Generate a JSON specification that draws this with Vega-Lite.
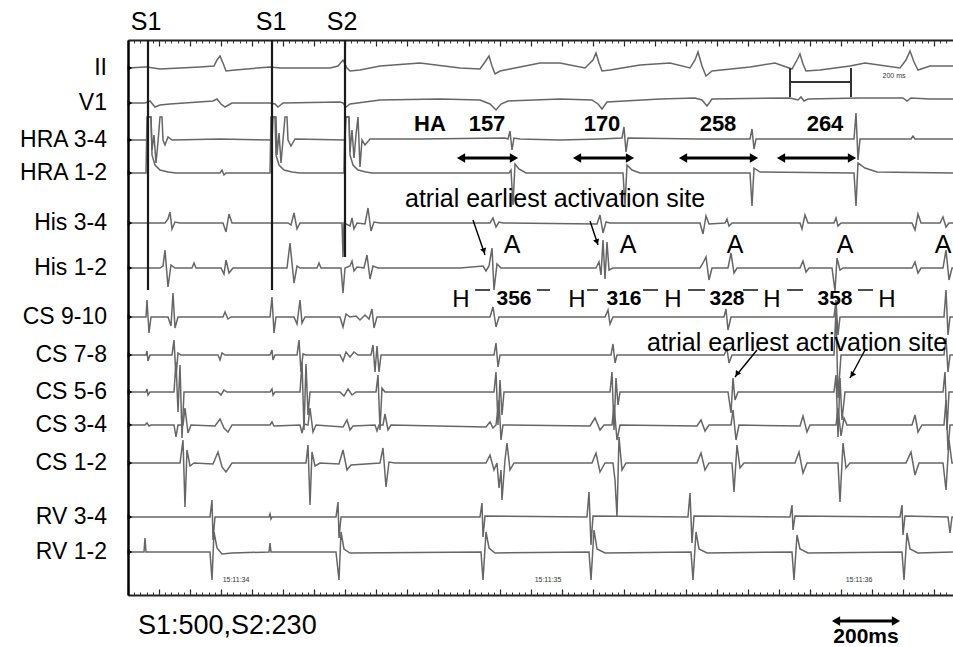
{
"$schema":"https://vega.github.io/schema/vega-lite/v6.json",
"width":825,"height":555,
"autosize":{"type":"none"},
"padding":{"left":128,"top":40,"right":0,"bottom":52},
"background":"white",
"view":{"stroke":null},
"config":{"font":"Liberation Sans","text":{"font":"Liberation Sans","color":"#000"}},
"datasets":{
"traces":[
{"ch":"II","t":0,"v":28},{"ch":"II","t":17,"v":27},{"ch":"II","t":19,"v":27},{"ch":"II","t":32,"v":29},{"ch":"II","t":72,"v":27},{"ch":"II","t":86,"v":26},{"ch":"II","t":89,"v":20},{"ch":"II","t":92,"v":16},{"ch":"II","t":95,"v":23},{"ch":"II","t":98,"v":31},{"ch":"II","t":107,"v":30},{"ch":"II","t":142,"v":27},{"ch":"II","t":152,"v":28},{"ch":"II","t":202,"v":28},{"ch":"II","t":210,"v":26},{"ch":"II","t":215,"v":20},{"ch":"II","t":219,"v":28},{"ch":"II","t":222,"v":31},{"ch":"II","t":232,"v":30},{"ch":"II","t":252,"v":26},{"ch":"II","t":292,"v":23},{"ch":"II","t":332,"v":28},{"ch":"II","t":352,"v":29},{"ch":"II","t":357,"v":22},{"ch":"II","t":361,"v":16},{"ch":"II","t":364,"v":26},{"ch":"II","t":367,"v":34},{"ch":"II","t":372,"v":31},{"ch":"II","t":382,"v":29},{"ch":"II","t":412,"v":23},{"ch":"II","t":432,"v":23},{"ch":"II","t":457,"v":28},{"ch":"II","t":465,"v":20},{"ch":"II","t":468,"v":13},{"ch":"II","t":471,"v":23},{"ch":"II","t":474,"v":31},{"ch":"II","t":482,"v":30},{"ch":"II","t":512,"v":25},{"ch":"II","t":542,"v":23},{"ch":"II","t":562,"v":28},{"ch":"II","t":567,"v":20},{"ch":"II","t":570,"v":12},{"ch":"II","t":574,"v":26},{"ch":"II","t":578,"v":36},{"ch":"II","t":584,"v":31},{"ch":"II","t":622,"v":27},{"ch":"II","t":647,"v":23},{"ch":"II","t":664,"v":29},{"ch":"II","t":669,"v":20},{"ch":"II","t":672,"v":14},{"ch":"II","t":675,"v":24},{"ch":"II","t":678,"v":31},{"ch":"II","t":692,"v":30},{"ch":"II","t":722,"v":26},{"ch":"II","t":737,"v":23},{"ch":"II","t":772,"v":28},{"ch":"II","t":778,"v":20},{"ch":"II","t":782,"v":11},{"ch":"II","t":786,"v":22},{"ch":"II","t":790,"v":30},{"ch":"II","t":802,"v":26},{"ch":"II","t":825,"v":26},
{"ch":"V1","t":0,"v":63},{"ch":"V1","t":17,"v":63},{"ch":"V1","t":22,"v":61},{"ch":"V1","t":27,"v":67},{"ch":"V1","t":32,"v":65},{"ch":"V1","t":42,"v":64},{"ch":"V1","t":85,"v":61},{"ch":"V1","t":89,"v":59},{"ch":"V1","t":93,"v":64},{"ch":"V1","t":97,"v":67},{"ch":"V1","t":104,"v":63},{"ch":"V1","t":142,"v":63},{"ch":"V1","t":147,"v":64},{"ch":"V1","t":150,"v":67},{"ch":"V1","t":155,"v":63},{"ch":"V1","t":212,"v":62},{"ch":"V1","t":215,"v":63},{"ch":"V1","t":218,"v":67},{"ch":"V1","t":222,"v":64},{"ch":"V1","t":252,"v":60},{"ch":"V1","t":312,"v":59},{"ch":"V1","t":352,"v":60},{"ch":"V1","t":362,"v":64},{"ch":"V1","t":368,"v":70},{"ch":"V1","t":373,"v":64},{"ch":"V1","t":380,"v":61},{"ch":"V1","t":432,"v":59},{"ch":"V1","t":464,"v":60},{"ch":"V1","t":470,"v":64},{"ch":"V1","t":474,"v":69},{"ch":"V1","t":479,"v":62},{"ch":"V1","t":532,"v":59},{"ch":"V1","t":567,"v":58},{"ch":"V1","t":574,"v":60},{"ch":"V1","t":579,"v":66},{"ch":"V1","t":584,"v":59},{"ch":"V1","t":662,"v":58},{"ch":"V1","t":670,"v":60},{"ch":"V1","t":673,"v":57},{"ch":"V1","t":676,"v":61},{"ch":"V1","t":680,"v":59},{"ch":"V1","t":732,"v":58},{"ch":"V1","t":775,"v":58},{"ch":"V1","t":779,"v":61},{"ch":"V1","t":783,"v":58},{"ch":"V1","t":802,"v":59},{"ch":"V1","t":825,"v":59},
{"ch":"HRA 3-4","t":0,"v":100},{"ch":"HRA 3-4","t":19,"v":100},{"ch":"HRA 3-4","t":20,"v":77},{"ch":"HRA 3-4","t":23,"v":77},{"ch":"HRA 3-4","t":24,"v":110},{"ch":"HRA 3-4","t":26,"v":95},{"ch":"HRA 3-4","t":28,"v":123},{"ch":"HRA 3-4","t":30,"v":102},{"ch":"HRA 3-4","t":32,"v":77},{"ch":"HRA 3-4","t":34,"v":77},{"ch":"HRA 3-4","t":35,"v":100},{"ch":"HRA 3-4","t":37,"v":105},{"ch":"HRA 3-4","t":40,"v":97},{"ch":"HRA 3-4","t":44,"v":100},{"ch":"HRA 3-4","t":92,"v":99},{"ch":"HRA 3-4","t":144,"v":100},{"ch":"HRA 3-4","t":145,"v":77},{"ch":"HRA 3-4","t":148,"v":77},{"ch":"HRA 3-4","t":149,"v":115},{"ch":"HRA 3-4","t":151,"v":93},{"ch":"HRA 3-4","t":153,"v":123},{"ch":"HRA 3-4","t":155,"v":100},{"ch":"HRA 3-4","t":157,"v":77},{"ch":"HRA 3-4","t":159,"v":77},{"ch":"HRA 3-4","t":160,"v":100},{"ch":"HRA 3-4","t":163,"v":106},{"ch":"HRA 3-4","t":167,"v":99},{"ch":"HRA 3-4","t":217,"v":100},{"ch":"HRA 3-4","t":218,"v":77},{"ch":"HRA 3-4","t":221,"v":77},{"ch":"HRA 3-4","t":222,"v":112},{"ch":"HRA 3-4","t":224,"v":90},{"ch":"HRA 3-4","t":226,"v":118},{"ch":"HRA 3-4","t":228,"v":95},{"ch":"HRA 3-4","t":230,"v":77},{"ch":"HRA 3-4","t":232,"v":127},{"ch":"HRA 3-4","t":234,"v":100},{"ch":"HRA 3-4","t":237,"v":105},{"ch":"HRA 3-4","t":242,"v":99},{"ch":"HRA 3-4","t":292,"v":99},{"ch":"HRA 3-4","t":377,"v":98},{"ch":"HRA 3-4","t":380,"v":99},{"ch":"HRA 3-4","t":382,"v":91},{"ch":"HRA 3-4","t":384,"v":110},{"ch":"HRA 3-4","t":386,"v":98},{"ch":"HRA 3-4","t":392,"v":99},{"ch":"HRA 3-4","t":432,"v":100},{"ch":"HRA 3-4","t":472,"v":99},{"ch":"HRA 3-4","t":494,"v":98},{"ch":"HRA 3-4","t":496,"v":87},{"ch":"HRA 3-4","t":498,"v":112},{"ch":"HRA 3-4","t":500,"v":98},{"ch":"HRA 3-4","t":572,"v":99},{"ch":"HRA 3-4","t":622,"v":99},{"ch":"HRA 3-4","t":624,"v":89},{"ch":"HRA 3-4","t":626,"v":109},{"ch":"HRA 3-4","t":628,"v":99},{"ch":"HRA 3-4","t":672,"v":99},{"ch":"HRA 3-4","t":726,"v":99},{"ch":"HRA 3-4","t":728,"v":73},{"ch":"HRA 3-4","t":730,"v":120},{"ch":"HRA 3-4","t":732,"v":99},{"ch":"HRA 3-4","t":783,"v":99},{"ch":"HRA 3-4","t":785,"v":96},{"ch":"HRA 3-4","t":787,"v":99},{"ch":"HRA 3-4","t":825,"v":99},
{"ch":"HRA 1-2","t":0,"v":133},{"ch":"HRA 1-2","t":18,"v":133},{"ch":"HRA 1-2","t":19,"v":77},{"ch":"HRA 1-2","t":23,"v":77},{"ch":"HRA 1-2","t":24,"v":115},{"ch":"HRA 1-2","t":27,"v":125},{"ch":"HRA 1-2","t":32,"v":130},{"ch":"HRA 1-2","t":40,"v":132},{"ch":"HRA 1-2","t":48,"v":133},{"ch":"HRA 1-2","t":92,"v":133},{"ch":"HRA 1-2","t":94,"v":130},{"ch":"HRA 1-2","t":96,"v":135},{"ch":"HRA 1-2","t":98,"v":133},{"ch":"HRA 1-2","t":142,"v":133},{"ch":"HRA 1-2","t":143,"v":77},{"ch":"HRA 1-2","t":147,"v":77},{"ch":"HRA 1-2","t":148,"v":115},{"ch":"HRA 1-2","t":151,"v":125},{"ch":"HRA 1-2","t":156,"v":130},{"ch":"HRA 1-2","t":164,"v":132},{"ch":"HRA 1-2","t":172,"v":133},{"ch":"HRA 1-2","t":216,"v":133},{"ch":"HRA 1-2","t":217,"v":77},{"ch":"HRA 1-2","t":221,"v":77},{"ch":"HRA 1-2","t":222,"v":115},{"ch":"HRA 1-2","t":225,"v":125},{"ch":"HRA 1-2","t":230,"v":130},{"ch":"HRA 1-2","t":238,"v":132},{"ch":"HRA 1-2","t":244,"v":133},{"ch":"HRA 1-2","t":381,"v":133},{"ch":"HRA 1-2","t":383,"v":130},{"ch":"HRA 1-2","t":385,"v":165},{"ch":"HRA 1-2","t":387,"v":124},{"ch":"HRA 1-2","t":391,"v":129},{"ch":"HRA 1-2","t":398,"v":133},{"ch":"HRA 1-2","t":495,"v":133},{"ch":"HRA 1-2","t":497,"v":165},{"ch":"HRA 1-2","t":499,"v":125},{"ch":"HRA 1-2","t":504,"v":130},{"ch":"HRA 1-2","t":512,"v":133},{"ch":"HRA 1-2","t":622,"v":133},{"ch":"HRA 1-2","t":624,"v":166},{"ch":"HRA 1-2","t":626,"v":128},{"ch":"HRA 1-2","t":632,"v":132},{"ch":"HRA 1-2","t":726,"v":133},{"ch":"HRA 1-2","t":728,"v":166},{"ch":"HRA 1-2","t":730,"v":123},{"ch":"HRA 1-2","t":737,"v":128},{"ch":"HRA 1-2","t":749,"v":132},{"ch":"HRA 1-2","t":825,"v":133},
{"ch":"His 3-4","t":0,"v":183},{"ch":"His 3-4","t":37,"v":183},{"ch":"His 3-4","t":40,"v":179},{"ch":"His 3-4","t":42,"v":172},{"ch":"His 3-4","t":44,"v":189},{"ch":"His 3-4","t":47,"v":182},{"ch":"His 3-4","t":52,"v":183},{"ch":"His 3-4","t":95,"v":183},{"ch":"His 3-4","t":98,"v":192},{"ch":"His 3-4","t":101,"v":174},{"ch":"His 3-4","t":104,"v":183},{"ch":"His 3-4","t":160,"v":183},{"ch":"His 3-4","t":163,"v":185},{"ch":"His 3-4","t":166,"v":173},{"ch":"His 3-4","t":169,"v":189},{"ch":"His 3-4","t":172,"v":183},{"ch":"His 3-4","t":214,"v":183},{"ch":"His 3-4","t":215,"v":217},{"ch":"His 3-4","t":216,"v":183},{"ch":"His 3-4","t":222,"v":186},{"ch":"His 3-4","t":224,"v":178},{"ch":"His 3-4","t":226,"v":189},{"ch":"His 3-4","t":229,"v":183},{"ch":"His 3-4","t":237,"v":184},{"ch":"His 3-4","t":240,"v":168},{"ch":"His 3-4","t":243,"v":191},{"ch":"His 3-4","t":246,"v":182},{"ch":"His 3-4","t":252,"v":183},{"ch":"His 3-4","t":362,"v":183},{"ch":"His 3-4","t":365,"v":178},{"ch":"His 3-4","t":368,"v":187},{"ch":"His 3-4","t":371,"v":182},{"ch":"His 3-4","t":375,"v":183},{"ch":"His 3-4","t":469,"v":184},{"ch":"His 3-4","t":472,"v":175},{"ch":"His 3-4","t":475,"v":193},{"ch":"His 3-4","t":478,"v":182},{"ch":"His 3-4","t":482,"v":183},{"ch":"His 3-4","t":572,"v":183},{"ch":"His 3-4","t":575,"v":194},{"ch":"His 3-4","t":578,"v":176},{"ch":"His 3-4","t":581,"v":184},{"ch":"His 3-4","t":597,"v":183},{"ch":"His 3-4","t":599,"v":179},{"ch":"His 3-4","t":601,"v":186},{"ch":"His 3-4","t":604,"v":183},{"ch":"His 3-4","t":672,"v":183},{"ch":"His 3-4","t":674,"v":189},{"ch":"His 3-4","t":677,"v":175},{"ch":"His 3-4","t":680,"v":183},{"ch":"His 3-4","t":706,"v":183},{"ch":"His 3-4","t":708,"v":178},{"ch":"His 3-4","t":710,"v":186},{"ch":"His 3-4","t":713,"v":183},{"ch":"His 3-4","t":784,"v":183},{"ch":"His 3-4","t":787,"v":190},{"ch":"His 3-4","t":790,"v":174},{"ch":"His 3-4","t":793,"v":183},{"ch":"His 3-4","t":812,"v":183},{"ch":"His 3-4","t":815,"v":177},{"ch":"His 3-4","t":818,"v":187},{"ch":"His 3-4","t":821,"v":183},{"ch":"His 3-4","t":825,"v":183},
{"ch":"His 1-2","t":0,"v":228},{"ch":"His 1-2","t":32,"v":228},{"ch":"His 1-2","t":35,"v":226},{"ch":"His 1-2","t":37,"v":210},{"ch":"His 1-2","t":40,"v":247},{"ch":"His 1-2","t":43,"v":225},{"ch":"His 1-2","t":47,"v":228},{"ch":"His 1-2","t":64,"v":228},{"ch":"His 1-2","t":66,"v":223},{"ch":"His 1-2","t":68,"v":228},{"ch":"His 1-2","t":93,"v":228},{"ch":"His 1-2","t":96,"v":234},{"ch":"His 1-2","t":98,"v":220},{"ch":"His 1-2","t":101,"v":233},{"ch":"His 1-2","t":105,"v":228},{"ch":"His 1-2","t":159,"v":228},{"ch":"His 1-2","t":162,"v":203},{"ch":"His 1-2","t":166,"v":243},{"ch":"His 1-2","t":169,"v":226},{"ch":"His 1-2","t":172,"v":228},{"ch":"His 1-2","t":189,"v":228},{"ch":"His 1-2","t":191,"v":223},{"ch":"His 1-2","t":193,"v":228},{"ch":"His 1-2","t":213,"v":228},{"ch":"His 1-2","t":215,"v":253},{"ch":"His 1-2","t":217,"v":228},{"ch":"His 1-2","t":222,"v":226},{"ch":"His 1-2","t":224,"v":221},{"ch":"His 1-2","t":226,"v":231},{"ch":"His 1-2","t":229,"v":227},{"ch":"His 1-2","t":236,"v":228},{"ch":"His 1-2","t":239,"v":215},{"ch":"His 1-2","t":242,"v":239},{"ch":"His 1-2","t":245,"v":226},{"ch":"His 1-2","t":250,"v":228},{"ch":"His 1-2","t":332,"v":228},{"ch":"His 1-2","t":355,"v":226},{"ch":"His 1-2","t":358,"v":231},{"ch":"His 1-2","t":361,"v":226},{"ch":"His 1-2","t":364,"v":208},{"ch":"His 1-2","t":366,"v":250},{"ch":"His 1-2","t":369,"v":224},{"ch":"His 1-2","t":373,"v":228},{"ch":"His 1-2","t":468,"v":228},{"ch":"His 1-2","t":471,"v":222},{"ch":"His 1-2","t":473,"v":235},{"ch":"His 1-2","t":475,"v":200},{"ch":"His 1-2","t":477,"v":239},{"ch":"His 1-2","t":479,"v":202},{"ch":"His 1-2","t":481,"v":230},{"ch":"His 1-2","t":485,"v":228},{"ch":"His 1-2","t":572,"v":228},{"ch":"His 1-2","t":575,"v":223},{"ch":"His 1-2","t":578,"v":217},{"ch":"His 1-2","t":581,"v":240},{"ch":"His 1-2","t":584,"v":228},{"ch":"His 1-2","t":600,"v":228},{"ch":"His 1-2","t":603,"v":213},{"ch":"His 1-2","t":606,"v":233},{"ch":"His 1-2","t":609,"v":228},{"ch":"His 1-2","t":672,"v":228},{"ch":"His 1-2","t":675,"v":221},{"ch":"His 1-2","t":678,"v":232},{"ch":"His 1-2","t":681,"v":228},{"ch":"His 1-2","t":704,"v":228},{"ch":"His 1-2","t":707,"v":251},{"ch":"His 1-2","t":709,"v":218},{"ch":"His 1-2","t":712,"v":230},{"ch":"His 1-2","t":715,"v":228},{"ch":"His 1-2","t":784,"v":228},{"ch":"His 1-2","t":787,"v":222},{"ch":"His 1-2","t":790,"v":233},{"ch":"His 1-2","t":793,"v":228},{"ch":"His 1-2","t":815,"v":228},{"ch":"His 1-2","t":818,"v":210},{"ch":"His 1-2","t":821,"v":240},{"ch":"His 1-2","t":824,"v":228},{"ch":"His 1-2","t":825,"v":228},
{"ch":"CS 9-10","t":0,"v":277},{"ch":"CS 9-10","t":18,"v":277},{"ch":"CS 9-10","t":19,"v":260},{"ch":"CS 9-10","t":21,"v":293},{"ch":"CS 9-10","t":23,"v":277},{"ch":"CS 9-10","t":40,"v":277},{"ch":"CS 9-10","t":43,"v":286},{"ch":"CS 9-10","t":45,"v":253},{"ch":"CS 9-10","t":47,"v":288},{"ch":"CS 9-10","t":50,"v":277},{"ch":"CS 9-10","t":95,"v":277},{"ch":"CS 9-10","t":97,"v":272},{"ch":"CS 9-10","t":100,"v":279},{"ch":"CS 9-10","t":103,"v":277},{"ch":"CS 9-10","t":142,"v":277},{"ch":"CS 9-10","t":144,"v":257},{"ch":"CS 9-10","t":146,"v":293},{"ch":"CS 9-10","t":148,"v":277},{"ch":"CS 9-10","t":166,"v":277},{"ch":"CS 9-10","t":169,"v":284},{"ch":"CS 9-10","t":172,"v":260},{"ch":"CS 9-10","t":174,"v":283},{"ch":"CS 9-10","t":177,"v":277},{"ch":"CS 9-10","t":212,"v":277},{"ch":"CS 9-10","t":215,"v":287},{"ch":"CS 9-10","t":218,"v":274},{"ch":"CS 9-10","t":222,"v":277},{"ch":"CS 9-10","t":228,"v":276},{"ch":"CS 9-10","t":232,"v":280},{"ch":"CS 9-10","t":237,"v":275},{"ch":"CS 9-10","t":241,"v":279},{"ch":"CS 9-10","t":244,"v":269},{"ch":"CS 9-10","t":246,"v":288},{"ch":"CS 9-10","t":249,"v":277},{"ch":"CS 9-10","t":362,"v":277},{"ch":"CS 9-10","t":365,"v":267},{"ch":"CS 9-10","t":368,"v":287},{"ch":"CS 9-10","t":371,"v":277},{"ch":"CS 9-10","t":477,"v":277},{"ch":"CS 9-10","t":480,"v":270},{"ch":"CS 9-10","t":482,"v":284},{"ch":"CS 9-10","t":485,"v":277},{"ch":"CS 9-10","t":596,"v":277},{"ch":"CS 9-10","t":598,"v":269},{"ch":"CS 9-10","t":600,"v":290},{"ch":"CS 9-10","t":603,"v":277},{"ch":"CS 9-10","t":706,"v":277},{"ch":"CS 9-10","t":708,"v":260},{"ch":"CS 9-10","t":710,"v":295},{"ch":"CS 9-10","t":712,"v":277},{"ch":"CS 9-10","t":816,"v":277},{"ch":"CS 9-10","t":818,"v":250},{"ch":"CS 9-10","t":820,"v":295},{"ch":"CS 9-10","t":822,"v":277},{"ch":"CS 9-10","t":825,"v":277},
{"ch":"CS 7-8","t":0,"v":315},{"ch":"CS 7-8","t":18,"v":315},{"ch":"CS 7-8","t":19,"v":311},{"ch":"CS 7-8","t":20,"v":321},{"ch":"CS 7-8","t":22,"v":315},{"ch":"CS 7-8","t":44,"v":315},{"ch":"CS 7-8","t":46,"v":300},{"ch":"CS 7-8","t":48,"v":337},{"ch":"CS 7-8","t":50,"v":313},{"ch":"CS 7-8","t":53,"v":315},{"ch":"CS 7-8","t":90,"v":315},{"ch":"CS 7-8","t":92,"v":320},{"ch":"CS 7-8","t":94,"v":313},{"ch":"CS 7-8","t":97,"v":315},{"ch":"CS 7-8","t":142,"v":315},{"ch":"CS 7-8","t":144,"v":310},{"ch":"CS 7-8","t":145,"v":320},{"ch":"CS 7-8","t":147,"v":315},{"ch":"CS 7-8","t":169,"v":315},{"ch":"CS 7-8","t":171,"v":300},{"ch":"CS 7-8","t":173,"v":332},{"ch":"CS 7-8","t":175,"v":314},{"ch":"CS 7-8","t":178,"v":315},{"ch":"CS 7-8","t":212,"v":315},{"ch":"CS 7-8","t":215,"v":321},{"ch":"CS 7-8","t":218,"v":312},{"ch":"CS 7-8","t":222,"v":317},{"ch":"CS 7-8","t":226,"v":312},{"ch":"CS 7-8","t":230,"v":315},{"ch":"CS 7-8","t":243,"v":315},{"ch":"CS 7-8","t":245,"v":305},{"ch":"CS 7-8","t":247,"v":332},{"ch":"CS 7-8","t":249,"v":306},{"ch":"CS 7-8","t":251,"v":332},{"ch":"CS 7-8","t":253,"v":315},{"ch":"CS 7-8","t":366,"v":315},{"ch":"CS 7-8","t":368,"v":303},{"ch":"CS 7-8","t":370,"v":327},{"ch":"CS 7-8","t":372,"v":315},{"ch":"CS 7-8","t":483,"v":315},{"ch":"CS 7-8","t":485,"v":304},{"ch":"CS 7-8","t":487,"v":323},{"ch":"CS 7-8","t":489,"v":315},{"ch":"CS 7-8","t":596,"v":315},{"ch":"CS 7-8","t":599,"v":309},{"ch":"CS 7-8","t":601,"v":323},{"ch":"CS 7-8","t":604,"v":315},{"ch":"CS 7-8","t":706,"v":315},{"ch":"CS 7-8","t":708,"v":270},{"ch":"CS 7-8","t":710,"v":358},{"ch":"CS 7-8","t":713,"v":315},{"ch":"CS 7-8","t":816,"v":315},{"ch":"CS 7-8","t":818,"v":298},{"ch":"CS 7-8","t":820,"v":332},{"ch":"CS 7-8","t":822,"v":315},{"ch":"CS 7-8","t":825,"v":315},
{"ch":"CS 5-6","t":0,"v":352},{"ch":"CS 5-6","t":18,"v":352},{"ch":"CS 5-6","t":19,"v":349},{"ch":"CS 5-6","t":20,"v":355},{"ch":"CS 5-6","t":22,"v":352},{"ch":"CS 5-6","t":46,"v":352},{"ch":"CS 5-6","t":48,"v":322},{"ch":"CS 5-6","t":50,"v":372},{"ch":"CS 5-6","t":52,"v":325},{"ch":"CS 5-6","t":54,"v":398},{"ch":"CS 5-6","t":56,"v":352},{"ch":"CS 5-6","t":58,"v":352},{"ch":"CS 5-6","t":90,"v":352},{"ch":"CS 5-6","t":93,"v":355},{"ch":"CS 5-6","t":96,"v":350},{"ch":"CS 5-6","t":99,"v":352},{"ch":"CS 5-6","t":142,"v":352},{"ch":"CS 5-6","t":144,"v":349},{"ch":"CS 5-6","t":145,"v":355},{"ch":"CS 5-6","t":147,"v":352},{"ch":"CS 5-6","t":172,"v":352},{"ch":"CS 5-6","t":174,"v":322},{"ch":"CS 5-6","t":176,"v":390},{"ch":"CS 5-6","t":178,"v":324},{"ch":"CS 5-6","t":180,"v":375},{"ch":"CS 5-6","t":182,"v":352},{"ch":"CS 5-6","t":212,"v":352},{"ch":"CS 5-6","t":216,"v":356},{"ch":"CS 5-6","t":220,"v":349},{"ch":"CS 5-6","t":224,"v":355},{"ch":"CS 5-6","t":228,"v":352},{"ch":"CS 5-6","t":248,"v":352},{"ch":"CS 5-6","t":250,"v":335},{"ch":"CS 5-6","t":252,"v":390},{"ch":"CS 5-6","t":254,"v":348},{"ch":"CS 5-6","t":257,"v":352},{"ch":"CS 5-6","t":366,"v":352},{"ch":"CS 5-6","t":368,"v":332},{"ch":"CS 5-6","t":370,"v":385},{"ch":"CS 5-6","t":372,"v":340},{"ch":"CS 5-6","t":374,"v":375},{"ch":"CS 5-6","t":376,"v":352},{"ch":"CS 5-6","t":482,"v":352},{"ch":"CS 5-6","t":484,"v":332},{"ch":"CS 5-6","t":486,"v":390},{"ch":"CS 5-6","t":488,"v":338},{"ch":"CS 5-6","t":490,"v":365},{"ch":"CS 5-6","t":492,"v":352},{"ch":"CS 5-6","t":600,"v":352},{"ch":"CS 5-6","t":603,"v":373},{"ch":"CS 5-6","t":605,"v":338},{"ch":"CS 5-6","t":607,"v":360},{"ch":"CS 5-6","t":610,"v":352},{"ch":"CS 5-6","t":706,"v":352},{"ch":"CS 5-6","t":708,"v":335},{"ch":"CS 5-6","t":710,"v":397},{"ch":"CS 5-6","t":712,"v":338},{"ch":"CS 5-6","t":714,"v":380},{"ch":"CS 5-6","t":717,"v":352},{"ch":"CS 5-6","t":815,"v":352},{"ch":"CS 5-6","t":817,"v":332},{"ch":"CS 5-6","t":819,"v":390},{"ch":"CS 5-6","t":821,"v":352},{"ch":"CS 5-6","t":825,"v":352},
{"ch":"CS 3-4","t":0,"v":385},{"ch":"CS 3-4","t":17,"v":385},{"ch":"CS 3-4","t":19,"v":383},{"ch":"CS 3-4","t":21,"v":386},{"ch":"CS 3-4","t":23,"v":385},{"ch":"CS 3-4","t":46,"v":385},{"ch":"CS 3-4","t":48,"v":397},{"ch":"CS 3-4","t":50,"v":385},{"ch":"CS 3-4","t":55,"v":385},{"ch":"CS 3-4","t":57,"v":368},{"ch":"CS 3-4","t":60,"v":393},{"ch":"CS 3-4","t":63,"v":385},{"ch":"CS 3-4","t":87,"v":386},{"ch":"CS 3-4","t":92,"v":379},{"ch":"CS 3-4","t":96,"v":388},{"ch":"CS 3-4","t":100,"v":392},{"ch":"CS 3-4","t":104,"v":385},{"ch":"CS 3-4","t":142,"v":385},{"ch":"CS 3-4","t":144,"v":382},{"ch":"CS 3-4","t":146,"v":386},{"ch":"CS 3-4","t":172,"v":385},{"ch":"CS 3-4","t":174,"v":393},{"ch":"CS 3-4","t":176,"v":384},{"ch":"CS 3-4","t":180,"v":385},{"ch":"CS 3-4","t":182,"v":368},{"ch":"CS 3-4","t":185,"v":392},{"ch":"CS 3-4","t":188,"v":385},{"ch":"CS 3-4","t":215,"v":387},{"ch":"CS 3-4","t":219,"v":380},{"ch":"CS 3-4","t":222,"v":390},{"ch":"CS 3-4","t":225,"v":386},{"ch":"CS 3-4","t":247,"v":385},{"ch":"CS 3-4","t":249,"v":391},{"ch":"CS 3-4","t":251,"v":385},{"ch":"CS 3-4","t":255,"v":385},{"ch":"CS 3-4","t":257,"v":374},{"ch":"CS 3-4","t":260,"v":390},{"ch":"CS 3-4","t":263,"v":385},{"ch":"CS 3-4","t":358,"v":387},{"ch":"CS 3-4","t":362,"v":382},{"ch":"CS 3-4","t":365,"v":388},{"ch":"CS 3-4","t":368,"v":385},{"ch":"CS 3-4","t":371,"v":360},{"ch":"CS 3-4","t":373,"v":400},{"ch":"CS 3-4","t":375,"v":385},{"ch":"CS 3-4","t":462,"v":386},{"ch":"CS 3-4","t":467,"v":378},{"ch":"CS 3-4","t":472,"v":390},{"ch":"CS 3-4","t":476,"v":385},{"ch":"CS 3-4","t":484,"v":385},{"ch":"CS 3-4","t":486,"v":365},{"ch":"CS 3-4","t":489,"v":400},{"ch":"CS 3-4","t":492,"v":385},{"ch":"CS 3-4","t":569,"v":386},{"ch":"CS 3-4","t":573,"v":380},{"ch":"CS 3-4","t":577,"v":391},{"ch":"CS 3-4","t":581,"v":385},{"ch":"CS 3-4","t":603,"v":385},{"ch":"CS 3-4","t":605,"v":370},{"ch":"CS 3-4","t":608,"v":400},{"ch":"CS 3-4","t":611,"v":385},{"ch":"CS 3-4","t":672,"v":386},{"ch":"CS 3-4","t":675,"v":376},{"ch":"CS 3-4","t":679,"v":392},{"ch":"CS 3-4","t":682,"v":385},{"ch":"CS 3-4","t":708,"v":385},{"ch":"CS 3-4","t":710,"v":368},{"ch":"CS 3-4","t":713,"v":396},{"ch":"CS 3-4","t":716,"v":378},{"ch":"CS 3-4","t":719,"v":385},{"ch":"CS 3-4","t":784,"v":385},{"ch":"CS 3-4","t":787,"v":375},{"ch":"CS 3-4","t":790,"v":392},{"ch":"CS 3-4","t":794,"v":385},{"ch":"CS 3-4","t":816,"v":385},{"ch":"CS 3-4","t":818,"v":360},{"ch":"CS 3-4","t":820,"v":410},{"ch":"CS 3-4","t":822,"v":385},{"ch":"CS 3-4","t":825,"v":385},
{"ch":"CS 1-2","t":0,"v":423},{"ch":"CS 1-2","t":52,"v":423},{"ch":"CS 1-2","t":55,"v":400},{"ch":"CS 1-2","t":57,"v":467},{"ch":"CS 1-2","t":59,"v":410},{"ch":"CS 1-2","t":62,"v":426},{"ch":"CS 1-2","t":66,"v":423},{"ch":"CS 1-2","t":85,"v":424},{"ch":"CS 1-2","t":90,"v":412},{"ch":"CS 1-2","t":94,"v":427},{"ch":"CS 1-2","t":98,"v":432},{"ch":"CS 1-2","t":104,"v":423},{"ch":"CS 1-2","t":178,"v":423},{"ch":"CS 1-2","t":180,"v":405},{"ch":"CS 1-2","t":182,"v":465},{"ch":"CS 1-2","t":184,"v":412},{"ch":"CS 1-2","t":187,"v":426},{"ch":"CS 1-2","t":192,"v":423},{"ch":"CS 1-2","t":211,"v":424},{"ch":"CS 1-2","t":215,"v":410},{"ch":"CS 1-2","t":219,"v":430},{"ch":"CS 1-2","t":223,"v":425},{"ch":"CS 1-2","t":252,"v":423},{"ch":"CS 1-2","t":255,"v":408},{"ch":"CS 1-2","t":258,"v":447},{"ch":"CS 1-2","t":261,"v":422},{"ch":"CS 1-2","t":267,"v":423},{"ch":"CS 1-2","t":358,"v":423},{"ch":"CS 1-2","t":362,"v":415},{"ch":"CS 1-2","t":366,"v":430},{"ch":"CS 1-2","t":369,"v":423},{"ch":"CS 1-2","t":371,"v":448},{"ch":"CS 1-2","t":373,"v":430},{"ch":"CS 1-2","t":374,"v":460},{"ch":"CS 1-2","t":377,"v":420},{"ch":"CS 1-2","t":379,"v":403},{"ch":"CS 1-2","t":382,"v":430},{"ch":"CS 1-2","t":386,"v":423},{"ch":"CS 1-2","t":464,"v":423},{"ch":"CS 1-2","t":468,"v":413},{"ch":"CS 1-2","t":472,"v":432},{"ch":"CS 1-2","t":477,"v":423},{"ch":"CS 1-2","t":485,"v":423},{"ch":"CS 1-2","t":487,"v":440},{"ch":"CS 1-2","t":489,"v":477},{"ch":"CS 1-2","t":491,"v":397},{"ch":"CS 1-2","t":494,"v":430},{"ch":"CS 1-2","t":498,"v":423},{"ch":"CS 1-2","t":569,"v":423},{"ch":"CS 1-2","t":573,"v":413},{"ch":"CS 1-2","t":577,"v":430},{"ch":"CS 1-2","t":581,"v":423},{"ch":"CS 1-2","t":604,"v":423},{"ch":"CS 1-2","t":606,"v":452},{"ch":"CS 1-2","t":609,"v":405},{"ch":"CS 1-2","t":612,"v":428},{"ch":"CS 1-2","t":616,"v":423},{"ch":"CS 1-2","t":667,"v":423},{"ch":"CS 1-2","t":671,"v":412},{"ch":"CS 1-2","t":675,"v":433},{"ch":"CS 1-2","t":679,"v":423},{"ch":"CS 1-2","t":710,"v":423},{"ch":"CS 1-2","t":712,"v":462},{"ch":"CS 1-2","t":715,"v":403},{"ch":"CS 1-2","t":718,"v":428},{"ch":"CS 1-2","t":722,"v":423},{"ch":"CS 1-2","t":778,"v":423},{"ch":"CS 1-2","t":783,"v":412},{"ch":"CS 1-2","t":787,"v":435},{"ch":"CS 1-2","t":791,"v":423},{"ch":"CS 1-2","t":815,"v":423},{"ch":"CS 1-2","t":818,"v":450},{"ch":"CS 1-2","t":821,"v":400},{"ch":"CS 1-2","t":824,"v":423},{"ch":"CS 1-2","t":825,"v":423},
{"ch":"RV 3-4","t":0,"v":477},{"ch":"RV 3-4","t":82,"v":477},{"ch":"RV 3-4","t":84,"v":460},{"ch":"RV 3-4","t":85,"v":500},{"ch":"RV 3-4","t":87,"v":477},{"ch":"RV 3-4","t":141,"v":477},{"ch":"RV 3-4","t":142,"v":474},{"ch":"RV 3-4","t":143,"v":479},{"ch":"RV 3-4","t":144,"v":477},{"ch":"RV 3-4","t":208,"v":477},{"ch":"RV 3-4","t":210,"v":462},{"ch":"RV 3-4","t":211,"v":498},{"ch":"RV 3-4","t":213,"v":477},{"ch":"RV 3-4","t":352,"v":477},{"ch":"RV 3-4","t":354,"v":463},{"ch":"RV 3-4","t":355,"v":497},{"ch":"RV 3-4","t":357,"v":476},{"ch":"RV 3-4","t":459,"v":477},{"ch":"RV 3-4","t":461,"v":452},{"ch":"RV 3-4","t":463,"v":505},{"ch":"RV 3-4","t":465,"v":476},{"ch":"RV 3-4","t":560,"v":477},{"ch":"RV 3-4","t":562,"v":453},{"ch":"RV 3-4","t":564,"v":503},{"ch":"RV 3-4","t":566,"v":476},{"ch":"RV 3-4","t":662,"v":477},{"ch":"RV 3-4","t":664,"v":465},{"ch":"RV 3-4","t":665,"v":490},{"ch":"RV 3-4","t":667,"v":476},{"ch":"RV 3-4","t":772,"v":477},{"ch":"RV 3-4","t":774,"v":465},{"ch":"RV 3-4","t":775,"v":495},{"ch":"RV 3-4","t":777,"v":476},{"ch":"RV 3-4","t":820,"v":477},{"ch":"RV 3-4","t":822,"v":493},{"ch":"RV 3-4","t":824,"v":477},{"ch":"RV 3-4","t":825,"v":477},
{"ch":"RV 1-2","t":0,"v":512},{"ch":"RV 1-2","t":16,"v":512},{"ch":"RV 1-2","t":17,"v":498},{"ch":"RV 1-2","t":18,"v":512},{"ch":"RV 1-2","t":82,"v":512},{"ch":"RV 1-2","t":84,"v":540},{"ch":"RV 1-2","t":86,"v":492},{"ch":"RV 1-2","t":89,"v":508},{"ch":"RV 1-2","t":94,"v":514},{"ch":"RV 1-2","t":104,"v":513},{"ch":"RV 1-2","t":141,"v":512},{"ch":"RV 1-2","t":142,"v":503},{"ch":"RV 1-2","t":143,"v":512},{"ch":"RV 1-2","t":208,"v":512},{"ch":"RV 1-2","t":211,"v":540},{"ch":"RV 1-2","t":213,"v":492},{"ch":"RV 1-2","t":216,"v":509},{"ch":"RV 1-2","t":222,"v":513},{"ch":"RV 1-2","t":353,"v":512},{"ch":"RV 1-2","t":355,"v":540},{"ch":"RV 1-2","t":358,"v":492},{"ch":"RV 1-2","t":361,"v":508},{"ch":"RV 1-2","t":367,"v":513},{"ch":"RV 1-2","t":461,"v":512},{"ch":"RV 1-2","t":463,"v":540},{"ch":"RV 1-2","t":466,"v":490},{"ch":"RV 1-2","t":469,"v":509},{"ch":"RV 1-2","t":477,"v":513},{"ch":"RV 1-2","t":563,"v":512},{"ch":"RV 1-2","t":565,"v":540},{"ch":"RV 1-2","t":568,"v":492},{"ch":"RV 1-2","t":571,"v":509},{"ch":"RV 1-2","t":579,"v":513},{"ch":"RV 1-2","t":664,"v":512},{"ch":"RV 1-2","t":666,"v":540},{"ch":"RV 1-2","t":669,"v":495},{"ch":"RV 1-2","t":672,"v":509},{"ch":"RV 1-2","t":680,"v":513},{"ch":"RV 1-2","t":774,"v":512},{"ch":"RV 1-2","t":776,"v":540},{"ch":"RV 1-2","t":779,"v":493},{"ch":"RV 1-2","t":782,"v":509},{"ch":"RV 1-2","t":790,"v":513},{"ch":"RV 1-2","t":825,"v":512}
],
"stims":[{"t":20,"t2":20,"v":0,"v2":250},{"t":144,"t2":144,"v":0,"v2":250},{"t":217,"t2":217,"v":0,"v2":217}],
"bracket":[{"t":662,"t2":662,"v":28,"v2":57},{"t":723,"t2":723,"v":28,"v2":57},{"t":662,"t2":723,"v":42,"v2":42}],
"thin":[{"t":347,"t2":362,"v":250,"v2":250},{"t":409,"t2":422,"v":250,"v2":250},{"t":459,"t2":470,"v":250,"v2":250},{"t":515,"t2":530,"v":250,"v2":250},{"t":560,"t2":577,"v":250,"v2":250},{"t":615,"t2":630,"v":250,"v2":250},{"t":659,"t2":675,"v":250,"v2":250},{"t":730,"t2":745,"v":250,"v2":250},{"t":345,"t2":357,"v":180,"v2":215},{"t":462,"t2":470,"v":181,"v2":205},{"t":629,"t2":607,"v":310,"v2":337},{"t":737,"t2":722,"v":310,"v2":338}],
"dbl":[{"t":333,"t2":386,"v":118},{"t":449,"t2":502,"v":118},{"t":555,"t2":626,"v":118},{"t":653,"t2":724,"v":118},{"t":708,"t2":768,"v":581}],
"headsA":[{"t":356,"v":211},{"t":469,"v":202}],
"headsB":[{"t":609,"v":334},{"t":724,"v":335}],
"channels":[{"ch":"II","t":-21,"v":28},{"ch":"V1","t":-21,"v":63},{"ch":"HRA 3-4","t":-21,"v":100},{"ch":"HRA 1-2","t":-21,"v":133},{"ch":"His 3-4","t":-21,"v":183},{"ch":"His 1-2","t":-21,"v":228},{"ch":"CS 9-10","t":-21,"v":277},{"ch":"CS 7-8","t":-21,"v":315},{"ch":"CS 5-6","t":-21,"v":352},{"ch":"CS 3-4","t":-21,"v":385},{"ch":"CS 1-2","t":-21,"v":423},{"ch":"RV 3-4","t":-21,"v":477},{"ch":"RV 1-2","t":-21,"v":512}],
"slabels":[{"label":"S1","t":18,"v":-18},{"label":"S1","t":143,"v":-18},{"label":"S2","t":214,"v":-18}],
"caption":[{"label":"S1:500,S2:230","t":10,"v":586}],
"site":[{"label":"atrial earliest activation site","t":277,"v":167},{"label":"atrial earliest activation site","t":519,"v":311}],
"alabels":[{"label":"A","t":384,"v":213},{"label":"A","t":500,"v":213},{"label":"A","t":607,"v":213},{"label":"A","t":717,"v":213},{"label":"A","t":815,"v":213}],
"hlabels":[{"label":"H","t":333,"v":267},{"label":"H","t":449,"v":267},{"label":"H","t":545,"v":267},{"label":"H","t":644,"v":267},{"label":"H","t":759,"v":267}],
"boldtop":[{"label":"HA","t":302,"v":91},{"label":"157","t":359,"v":91},{"label":"170","t":474,"v":91},{"label":"258","t":590,"v":91},{"label":"264","t":697,"v":91}],
"boldmid":[{"label":"356","t":386,"v":265},{"label":"316","t":496,"v":265},{"label":"328","t":599,"v":265},{"label":"358","t":707,"v":265}],
"scale":[{"label":"200ms","t":738,"v":603}],
"tiny":[{"label":"15:11:34","t":108,"v":540},{"label":"15:11:35","t":420,"v":540},{"label":"15:11:36","t":731,"v":540},{"label":"200 ms","t":766,"v":36}]
},
"encoding":{
"x":{"field":"t","type":"quantitative","scale":{"domain":[0,825],"nice":false,"zero":false},"axis":null},
"y":{"field":"v","type":"quantitative","scale":{"domain":[0,555],"nice":false,"zero":false,"reverse":true},"axis":{"orient":"left","ticks":false,"labels":false,"grid":false,"title":null,"domainColor":"#000","domainWidth":2.5}}
},
"resolve":{"axis":{"x":"independent"}},
"layer":[
{"data":{"name":"traces"},"mark":{"type":"line","color":"#666666","strokeWidth":1.5},
 "encoding":{"x":{"field":"t","type":"quantitative","scale":{"domain":[0,825],"nice":false,"zero":false},"axis":{"orient":"bottom","values":[0,31,62,93,124,155,186,217,248,279,310,341,372,403,434,465,496,527,558,589,620,651,682,713,744,775,806],"tickSize":-6,"tickColor":"#222","tickWidth":1.2,"labels":false,"grid":false,"title":null,"domainColor":"#222","domainWidth":2}},"detail":{"field":"ch"},"order":{"field":"t"}}},
{"data":{"name":"stims"},"mark":{"type":"rule","color":"#1a1a1a","strokeWidth":2.2},
 "encoding":{"x":{"field":"t","type":"quantitative","scale":{"domain":[0,825],"nice":false,"zero":false},"axis":{"orient":"bottom","values":[0,6.2,12.4,18.6,24.8,31,37.2,43.4,49.6,55.8,62,68.2,74.4,80.6,86.8,93,99.2,105.4,111.6,117.8,124,130.2,136.4,142.6,148.8,155,161.2,167.4,173.6,179.8,186,192.2,198.4,204.6,210.8,217,223.2,229.4,235.6,241.8,248,254.2,260.4,266.6,272.8,279,285.2,291.4,297.6,303.8,310,316.2,322.4,328.6,334.8,341,347.2,353.4,359.6,365.8,372,378.2,384.4,390.6,396.8,403,409.2,415.4,421.6,427.8,434,440.2,446.4,452.6,458.8,465,471.2,477.4,483.6,489.8,496,502.2,508.4,514.6,520.8,527,533.2,539.4,545.6,551.8,558,564.2,570.4,576.6,582.8,589,595.2,601.4,607.6,613.8,620,626.2,632.4,638.6,644.8,651,657.2,663.4,669.6,675.8,682,688.2,694.4,700.6,706.8,713,719.2,725.4,731.6,737.8,744,750.2,756.4,762.6,768.8,775,781.2,787.4,793.6,799.8,806,812.2,818.4,824.6],"tickSize":-3,"tickColor":"#333","tickWidth":1,"labels":false,"domain":false,"grid":false,"title":null}},"x2":{"field":"t2"},"y2":{"field":"v2"}}},
{"data":{"name":"bracket"},"mark":{"type":"rule","color":"#333","strokeWidth":2},
 "encoding":{"x":{"field":"t","type":"quantitative","scale":{"domain":[0,825],"nice":false,"zero":false},"axis":{"orient":"top","values":[0,31,62,93,124,155,186,217,248,279,310,341,372,403,434,465,496,527,558,589,620,651,682,713,744,775,806],"tickSize":-6,"tickColor":"#222","tickWidth":1.2,"labels":false,"grid":false,"title":null,"domainColor":"#222","domainWidth":2}},"x2":{"field":"t2"},"y2":{"field":"v2"}}},
{"data":{"name":"thin"},"mark":{"type":"rule","color":"#000","strokeWidth":1.4},
 "encoding":{"x":{"field":"t","type":"quantitative","scale":{"domain":[0,825],"nice":false,"zero":false},"axis":{"orient":"top","values":[0,6.2,12.4,18.6,24.8,31,37.2,43.4,49.6,55.8,62,68.2,74.4,80.6,86.8,93,99.2,105.4,111.6,117.8,124,130.2,136.4,142.6,148.8,155,161.2,167.4,173.6,179.8,186,192.2,198.4,204.6,210.8,217,223.2,229.4,235.6,241.8,248,254.2,260.4,266.6,272.8,279,285.2,291.4,297.6,303.8,310,316.2,322.4,328.6,334.8,341,347.2,353.4,359.6,365.8,372,378.2,384.4,390.6,396.8,403,409.2,415.4,421.6,427.8,434,440.2,446.4,452.6,458.8,465,471.2,477.4,483.6,489.8,496,502.2,508.4,514.6,520.8,527,533.2,539.4,545.6,551.8,558,564.2,570.4,576.6,582.8,589,595.2,601.4,607.6,613.8,620,626.2,632.4,638.6,644.8,651,657.2,663.4,669.6,675.8,682,688.2,694.4,700.6,706.8,713,719.2,725.4,731.6,737.8,744,750.2,756.4,762.6,768.8,775,781.2,787.4,793.6,799.8,806,812.2,818.4,824.6],"tickSize":-3,"tickColor":"#333","tickWidth":1,"labels":false,"domain":false,"grid":false,"title":null}},"x2":{"field":"t2"},"y2":{"field":"v2"}}},
{"data":{"name":"dbl"},"mark":{"type":"rule","color":"#000","strokeWidth":3},"encoding":{"x2":{"field":"t2"}}},
{"data":{"name":"dbl"},"mark":{"type":"point","shape":"triangle-left","filled":true,"color":"#000","size":90,"opacity":1}},
{"data":{"name":"dbl"},"mark":{"type":"point","shape":"triangle-right","filled":true,"color":"#000","size":90,"opacity":1},
 "encoding":{"x":{"field":"t2","type":"quantitative","scale":{"domain":[0,825],"nice":false,"zero":false},"axis":null}}},
{"data":{"name":"headsA"},"mark":{"type":"point","shape":"triangle-up","filled":true,"color":"#000","size":40,"opacity":1,"angle":161}},
{"data":{"name":"headsB"},"mark":{"type":"point","shape":"triangle-up","filled":true,"color":"#000","size":40,"opacity":1,"angle":214}},
{"data":{"name":"channels"},"mark":{"type":"text","align":"right","baseline":"middle","fontSize":23,"color":"#000"},
 "encoding":{"text":{"field":"ch"}}},
{"data":{"name":"channels"},"mark":{"type":"point","shape":"triangle-right","filled":true,"color":"#000","size":30,"opacity":1,"xOffset":23}},
{"data":{"name":"slabels"},"mark":{"type":"text","align":"center","baseline":"middle","fontSize":25},"encoding":{"text":{"field":"label"}}},
{"data":{"name":"caption"},"mark":{"type":"text","align":"left","baseline":"middle","fontSize":27},"encoding":{"text":{"field":"label"}}},
{"data":{"name":"site"},"mark":{"type":"text","align":"left","baseline":"alphabetic","fontSize":25},"encoding":{"text":{"field":"label"}}},
{"data":{"name":"alabels"},"mark":{"type":"text","align":"center","baseline":"alphabetic","fontSize":25},"encoding":{"text":{"field":"label"}}},
{"data":{"name":"hlabels"},"mark":{"type":"text","align":"center","baseline":"alphabetic","fontSize":24},"encoding":{"text":{"field":"label"}}},
{"data":{"name":"boldtop"},"mark":{"type":"text","align":"center","baseline":"alphabetic","fontSize":22,"fontWeight":"bold"},"encoding":{"text":{"field":"label"}}},
{"data":{"name":"boldmid"},"mark":{"type":"text","align":"center","baseline":"alphabetic","fontSize":21,"fontWeight":"bold"},"encoding":{"text":{"field":"label"}}},
{"data":{"name":"scale"},"mark":{"type":"text","align":"center","baseline":"alphabetic","fontSize":21,"fontWeight":"bold"},"encoding":{"text":{"field":"label"}}},
{"data":{"name":"tiny"},"mark":{"type":"text","align":"center","baseline":"middle","fontSize":7,"color":"#333"},"encoding":{"text":{"field":"label"}}}
]
}
